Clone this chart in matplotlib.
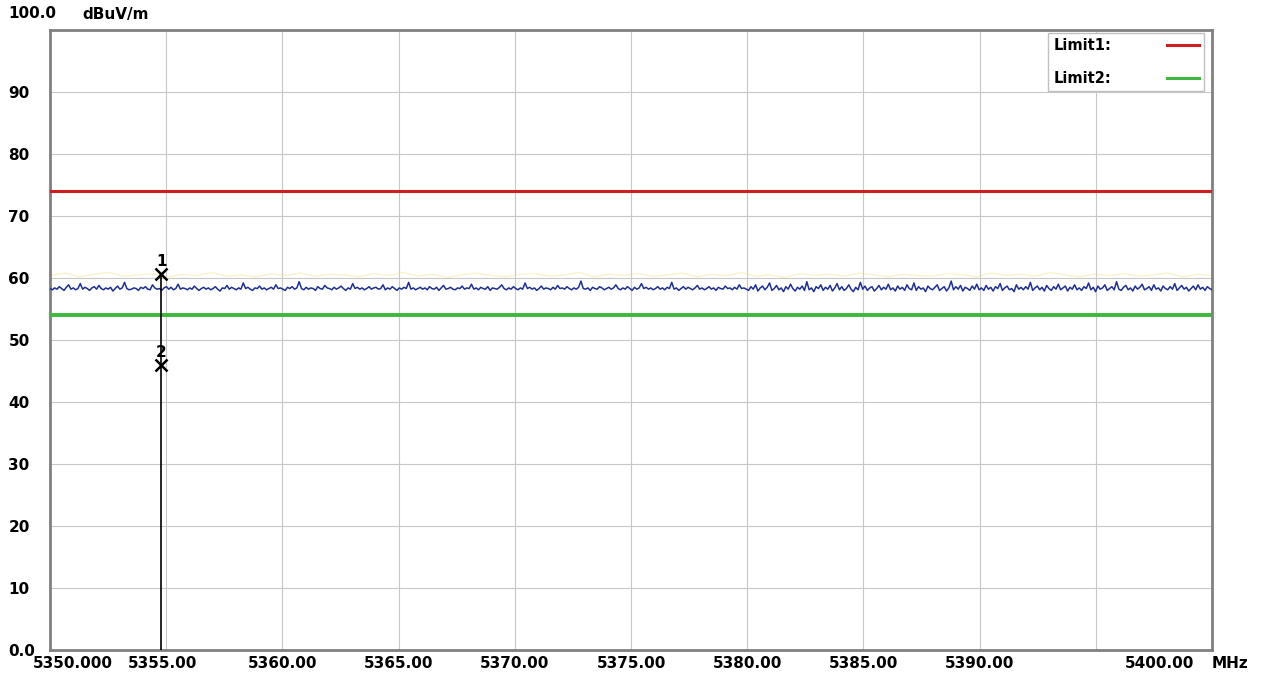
import numpy as np
import matplotlib
matplotlib.use('Agg')
import matplotlib.pyplot as plt
from matplotlib.lines import Line2D

# eixos e limites
freq_start = 5350.0
freq_stop = 5400.0
grid_freqs = [5350, 5355, 5360, 5365, 5370, 5375, 5380, 5385, 5390, 5395, 5400]
label_freqs = [5351.0, 5354.86, 5360, 5365, 5370, 5375, 5380, 5385, 5390, 5397.76]
label_texts = ['5350.000', '5355.00', '5360.00', '5365.00', '5370.00', '5375.00',
               '5380.00', '5385.00', '5390.00', '5400.00']
level_ticks = [0, 10, 20, 30, 40, 50, 60, 70, 80, 90]
level_labels = ['0.0', '10', '20', '30', '40', '50', '60', '70', '80', '90']

limit1 = 74.0
limit2 = 54.0

# marcadores
marker_freq = 5354.78
marker1_level = 60.7
marker2_level = 46.0

trace = [
    58.3, 58.1, 58.4, 58.2, 58.6, 58.3, 58.0, 58.5, 58.9, 58.2, 58.4, 58.1, 58.3, 59.1, 58.2, 58.5, 58.3, 58.0, 58.4, 58.6,
    58.2, 58.8, 58.3, 58.1, 58.4, 58.2, 58.5, 57.9, 58.3, 58.7, 58.2, 58.4, 59.3, 58.3, 58.1, 58.2, 58.4, 58.3, 58.0, 58.5,
    58.3, 58.6, 58.2, 58.1, 58.9, 58.4, 58.2, 58.3, 58.0, 58.4, 58.6, 58.2, 58.5, 58.1, 58.3, 59.0, 58.2, 58.4, 58.3, 58.1,
    58.4, 58.2, 58.7, 58.3, 58.0, 58.3, 58.5, 58.2, 58.4, 58.1, 58.3, 58.6, 58.2, 57.9, 58.4, 58.3, 58.8, 58.2, 58.5, 58.3,
    58.1, 58.4, 58.2, 59.2, 58.3, 58.5, 58.2, 58.0, 58.4, 58.3, 58.7, 58.2, 58.4, 58.1, 58.3, 58.5, 58.2, 58.9, 58.3, 58.4,
    58.2, 58.0, 58.5, 58.3, 58.6, 58.2, 58.4, 59.4, 58.3, 58.1, 58.5, 58.2, 58.4, 58.3, 58.0, 58.6, 58.3, 58.2, 58.8, 58.4,
    58.3, 58.1, 58.5, 58.2, 58.4, 58.7, 58.3, 58.0, 58.4, 58.2, 59.1, 58.3, 58.5, 58.2, 58.4, 58.1, 58.3, 58.6, 58.2, 58.4,
    58.5, 58.2, 58.3, 58.9, 58.1, 58.4, 58.2, 58.6, 58.3, 58.0, 58.4, 58.2, 58.5, 58.3, 59.3, 58.2, 58.4, 58.1, 58.3, 58.5,
    58.2, 58.4, 58.1, 58.6, 58.3, 58.2, 58.5, 58.0, 58.4, 58.8, 58.2, 58.3, 58.5, 58.2, 58.1, 58.4, 58.3, 58.7, 58.2, 58.4,
    58.3, 59.0, 58.2, 58.4, 58.1, 58.5, 58.3, 58.2, 58.6, 58.0, 58.4, 58.3, 58.2, 58.5, 58.9, 58.3, 58.1, 58.4, 58.2, 58.6,
    58.3, 58.1, 58.4, 58.2, 59.2, 58.3, 58.5, 58.2, 58.4, 58.0, 58.3, 58.7, 58.2, 58.4, 58.3, 58.1, 58.5, 58.2, 58.8, 58.3,
    58.4, 58.2, 58.6, 58.3, 58.1, 58.4, 58.2, 58.5, 59.5, 58.3, 58.2, 58.4, 58.0, 58.5, 58.3, 58.2, 58.6, 58.4, 58.1, 58.3,
    58.5, 58.2, 58.4, 58.9, 58.3, 58.1, 58.4, 58.2, 58.6, 58.3, 58.0, 58.5, 58.2, 58.4, 59.1, 58.3, 58.5, 58.2, 58.4, 58.1,
    58.3, 58.6, 58.2, 58.4, 58.1, 58.5, 58.3, 59.3, 58.2, 58.4, 58.0, 58.3, 58.6, 58.2, 58.5, 58.3, 58.1, 58.4, 58.8, 58.2,
    58.4, 58.1, 58.3, 58.6, 58.2, 58.4, 58.0, 58.5, 58.3, 58.2, 58.7, 58.3, 58.4, 58.1, 58.5, 58.2, 58.9, 58.3, 58.4, 58.2,
    58.0, 58.6, 58.2, 58.9, 57.9, 58.4, 58.7, 58.1, 58.5, 59.2, 58.0, 58.3, 58.8, 58.1, 58.4, 57.8, 58.6, 58.2, 59.0, 58.3,
    57.9, 58.5, 58.2, 58.7, 58.0, 59.4, 58.1, 58.4, 57.8, 58.6, 58.3, 58.9, 58.0, 58.5, 58.2, 58.8, 57.9, 58.4, 59.1, 58.1,
    58.6, 58.0, 58.3, 58.9, 58.2, 57.8, 58.5, 58.1, 59.3, 58.2, 58.7, 58.0, 58.4, 58.6, 57.9, 58.3, 58.8, 58.1, 58.5, 58.2,
    59.0, 58.1, 58.4, 57.9, 58.7, 58.2, 58.5, 58.0, 58.9, 58.3, 58.1, 59.2, 58.0, 58.6, 58.2, 58.4, 57.8, 58.7, 58.3, 58.1,
    58.5, 58.9, 58.0, 58.3, 58.6, 57.9, 58.4, 59.5, 58.1, 58.6, 58.2, 58.8, 57.9, 58.5, 58.3, 58.0, 58.7, 58.2, 59.0, 58.1,
    58.4, 58.0, 58.8, 58.2, 58.5, 57.9, 58.6, 58.3, 59.1, 58.0, 58.4, 58.7, 58.1, 58.3, 57.8, 58.9, 58.2, 58.5, 58.1, 58.6,
    58.2, 59.3, 58.0, 58.4, 58.7, 58.1, 58.5, 57.9, 58.8, 58.3, 58.0, 58.6, 58.2, 59.0, 58.1, 58.4, 58.7, 57.9, 58.5, 58.2,
    58.9, 58.1, 58.4, 58.0, 58.6, 58.3, 59.2, 58.1, 58.5, 57.8, 58.7, 58.2, 58.4, 58.9, 58.0, 58.3, 58.6, 58.1, 59.4, 58.2,
    58.0, 58.5, 58.8, 58.1, 58.4, 57.9, 58.7, 58.2, 58.5, 59.0, 58.1, 58.3, 58.6, 58.0, 58.9, 58.2, 58.4, 57.9, 58.7, 58.3,
    58.1, 58.6, 58.2, 59.1, 58.0, 58.4, 58.8, 58.2, 58.5, 57.9, 58.3, 58.7, 58.1, 58.9, 58.2, 58.5, 58.0, 58.6, 58.3, 58.1,
]

# traço de pico (amarelo claro, quase apagado)
peak_trace = [
    60.4, 60.8, 60.2, 60.6, 60.9, 60.3, 60.5, 60.7, 60.1, 60.6, 60.4, 60.9, 60.3, 60.5, 60.2, 60.7, 60.4, 60.8, 60.3, 60.6,
    60.5, 60.2, 60.7, 60.4, 60.9, 60.3, 60.6, 60.1, 60.5, 60.8, 60.4, 60.2, 60.6, 60.7, 60.3, 60.5, 60.9, 60.2, 60.6, 60.4,
    60.7, 60.3, 60.5, 60.8, 60.2, 60.6, 60.4, 60.9, 60.3, 60.5, 60.1, 60.7, 60.4, 60.6, 60.3, 60.8, 60.5, 60.2, 60.6, 60.4,
    60.3, 60.7, 60.5, 60.2, 60.8, 60.4, 60.6, 60.3, 60.9, 60.5, 60.2, 60.6, 60.4, 60.7, 60.3, 60.5, 60.8, 60.2, 60.6, 60.4,
]

plt.rcParams['font.family'] = ['DejaVu Sans']
plt.rcParams['font.weight'] = 'bold'

fig = plt.figure(figsize=(12.61, 6.78), dpi=100)
ax = fig.add_axes([50 / 1261, 28 / 678, 1162 / 1261, 620 / 678])

freqs = np.linspace(freq_start, freq_stop, len(trace))
peak_freqs = np.linspace(freq_start, freq_stop, len(peak_trace))

ax.plot(peak_freqs, peak_trace, color='#f0de6a', lw=1.0, alpha=0.35, zorder=2)
ax.plot(freqs, trace, color='#1f2f91', lw=1.1, zorder=3)

ax.axhline(limit1, color='#cc1f1f', lw=2.2, zorder=4)
ax.axhline(limit2, color='#3cb83c', lw=2.8, zorder=4)

# marcadores 1 e 2
ax.vlines(marker_freq, 0, marker1_level, color='black', lw=1.2, zorder=5)
ax.plot([marker_freq, marker_freq], [marker1_level, marker2_level], ls='none',
        marker='x', ms=9, mew=1.8, color='black', zorder=6)
ax.text(marker_freq, marker1_level + 0.7, '1', ha='center', va='bottom', fontsize=11, fontweight='bold')
ax.text(marker_freq, marker2_level + 0.7, '2', ha='center', va='bottom', fontsize=11, fontweight='bold')

ax.set_xlim(freq_start, freq_stop)
ax.set_ylim(0, 100)

ax.xaxis.remove_overlapping_locs = False
ax.set_xticks(grid_freqs)
ax.set_xticklabels([''] * len(grid_freqs))
ax.set_xticks(label_freqs, label_texts, minor=True)
ax.tick_params(axis='x', which='both', length=0, pad=4, labelsize=11)

ax.set_yticks(level_ticks, level_labels)
ax.tick_params(axis='y', length=0, pad=30, labelsize=11)
for lbl in ax.get_yticklabels():
    lbl.set_horizontalalignment('left')

ax.grid(True, which='major', color='#c8c8c8', lw=0.8)
ax.set_axisbelow(True)
for sp in ax.spines.values():
    sp.set_color('#808080')
    sp.set_linewidth(2.0)

fig.text(8 / 1261, 1 - 14 / 678, '100.0', ha='left', va='center', fontsize=11, fontweight='bold')
fig.text(82 / 1261, 1 - 14 / 678, 'dBuV/m', ha='left', va='center', fontsize=11, fontweight='bold')
fig.text(1212 / 1261, 1 - 663 / 678, 'MHz', ha='left', va='center', fontsize=11, fontweight='bold')

handles = [Line2D([], [], color='#cc1f1f', lw=2.2), Line2D([], [], color='#3cb83c', lw=2.2)]
leg = ax.legend(handles, ['Limit1:', 'Limit2:'], loc='upper right', bbox_to_anchor=(0.993, 0.995),
                borderaxespad=0, markerfirst=False, handlelength=2.2, handletextpad=3.8,
                labelspacing=1.2, borderpad=0.35, fancybox=False, framealpha=1,
                edgecolor='#c0c0c0', prop={'size': 10.5, 'weight': 'bold'})
leg.get_frame().set_linewidth(1.0)

fig.savefig('out.png', dpi=100)
plt.close()
